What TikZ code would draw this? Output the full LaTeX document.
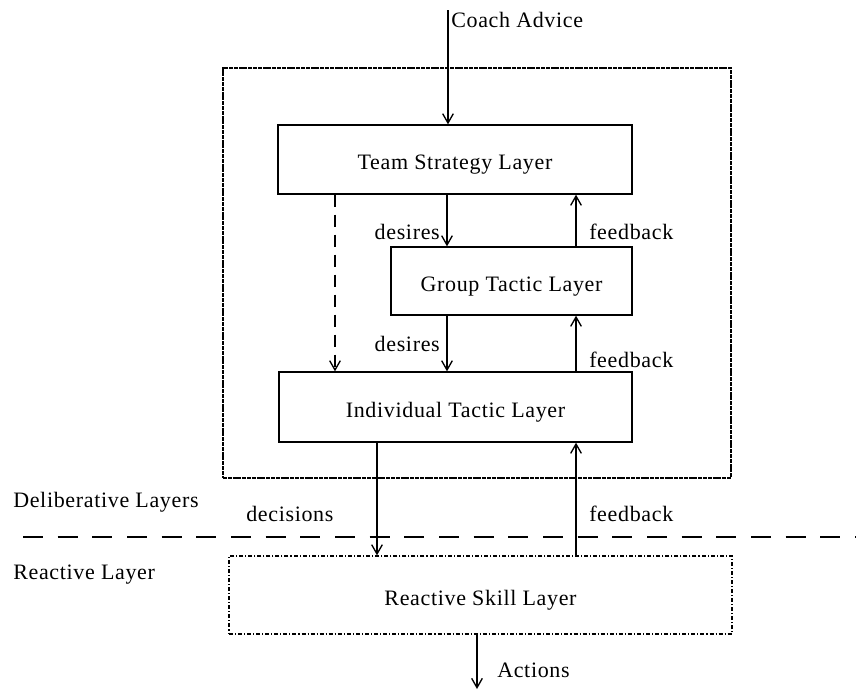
\documentclass[tikz,border=0pt]{standalone}
\usepackage{fontspec}
\setmainfont[LetterSpace=3]{Liberation Serif}
\usetikzlibrary{arrows.meta}
\tikzset{>={Straight Barb[length=7pt,width=8pt]}}
\tikzset{
  layer/.style={draw,line width=1pt,inner sep=0pt,text height=15.5pt,text depth=0pt,font=\fontsize{16.5}{19}\selectfont},
  lbl/.style={inner sep=0pt,font=\fontsize{16.5}{19}\selectfont},
  flow/.style={line width=1pt,->},
}

\begin{document}
\begin{tikzpicture}[x=0.75pt,y=-0.75pt]
      \useasboundingbox (0,0) rectangle (856,690);

      % deliberative part (sizes are px*0.75)
      \node[draw,line width=1.4pt,dash pattern=on 3pt off 0.6pt,minimum width=381pt,minimum height=307.5pt] (delib) at (477,273) {};
      \node[layer,minimum width=265.5pt,minimum height=51.75pt] (team) at (455,159.5) {Team Strategy Layer};
      \node[layer,minimum width=180.75pt,minimum height=51pt] (group) at (511.5,281) {Group Tactic Layer};
      \node[layer,minimum width=264.75pt,minimum height=52.5pt] (indiv) at (455.5,407) {Individual Tactic Layer};
      % reactive part
      \node[layer,dash pattern=on 3pt off 1.5pt on 0.8pt off 1.5pt,minimum width=377.25pt,minimum height=58.5pt] (react) at (480.5,595) {Reactive Skill Layer};

      \coordinate (coach) at (448,10);
      \coordinate (down) at (447,0);
      \coordinate (up) at (576,0);
      \coordinate (skip) at (335,0);
      \coordinate (dec) at (377,0);
      \coordinate (act) at (477,689);
      \coordinate (sepL) at (23,537);
      \coordinate (sepR) at (856,537);

      \draw[flow] (coach) -- (coach |- team.north);
      \draw[flow] (down |- team.south) -- (down |- group.north);
      \draw[flow] (down |- group.south) -- (down |- indiv.north);
      \draw[flow] (up |- group.north) -- (up |- team.south);
      \draw[flow] (up |- indiv.north) -- (up |- group.south);
      \draw[flow,dash pattern=on 9pt off 6pt] (skip |- team.south) -- (skip |- indiv.north);
      \draw[flow] (dec |- indiv.south) -- (dec |- react.north);
      \draw[flow] (up |- react.north) -- (up |- indiv.south);
      \draw[flow] (act |- react.south) -- (act);

      \draw[line width=1pt,dash pattern=on 15pt off 11pt] (sepL) -- (sepR);

      \node[lbl,anchor=base west] (coachlbl) at (451,27) {Coach Advice};
      \node[lbl,anchor=base east] (des1) at (440,239) {desires};
      \node[lbl,anchor=base west] (fb1) at (589,239) {feedback};
      \node[lbl,anchor=base east] (des2) at (440,351) {desires};
      \node[lbl,anchor=base west] (fb2) at (589,367) {feedback};
      \node[lbl,anchor=base west] (declbl) at (246,521) {decisions};
      \node[lbl,anchor=base west] (fb3) at (589,521) {feedback};
      \node[lbl,anchor=base west] (dellbl) at (13,507) {Deliberative Layers};
      \node[lbl,anchor=base west] (reactlbl) at (13,579) {Reactive Layer};
      \node[lbl,anchor=base west] (actlbl) at (497,677) {Actions};
\end{tikzpicture}
\end{document}
